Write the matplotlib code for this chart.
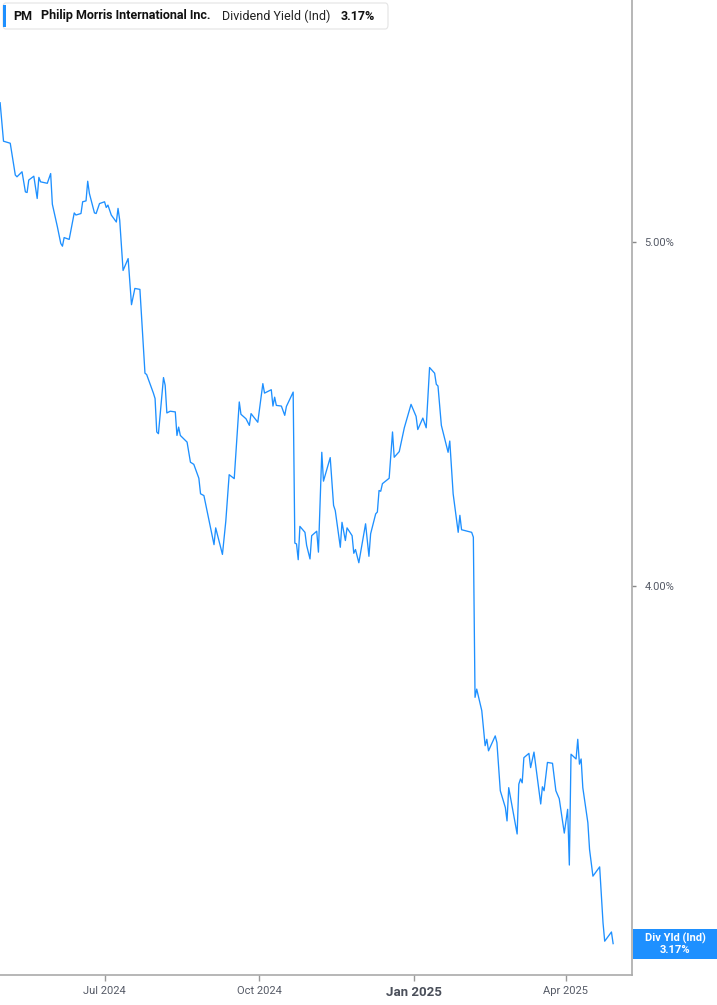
import matplotlib
matplotlib.use("Agg")
import matplotlib.pyplot as plt
import matplotlib.dates as mdates
import matplotlib.ticker as mticker
from matplotlib.patches import Rectangle, FancyBboxPatch
import pandas as pd

# dividend yield (%)
dates = [
    "2024-04-30", "2024-05-02", "2024-05-06", "2024-05-09", "2024-05-10", "2024-05-13",
    "2024-05-15", "2024-05-16", "2024-05-17", "2024-05-20", "2024-05-22", "2024-05-23",
    "2024-05-24", "2024-05-28", "2024-05-30", "2024-05-31", "2024-06-03", "2024-06-05",
    "2024-06-06", "2024-06-07", "2024-06-10", "2024-06-13", "2024-06-14", "2024-06-17",
    "2024-06-18", "2024-06-20", "2024-06-21", "2024-06-22", "2024-06-25", "2024-06-26",
    "2024-06-28", "2024-07-01", "2024-07-02", "2024-07-03", "2024-07-05", "2024-07-08",
    "2024-07-09", "2024-07-10", "2024-07-12", "2024-07-15", "2024-07-17", "2024-07-19",
    "2024-07-22", "2024-07-25", "2024-07-26", "2024-07-30", "2024-07-31", "2024-08-01",
    "2024-08-02", "2024-08-05", "2024-08-06", "2024-08-07", "2024-08-09", "2024-08-12",
    "2024-08-13", "2024-08-14", "2024-08-15", "2024-08-19", "2024-08-21", "2024-08-23",
    "2024-08-26", "2024-08-27", "2024-08-29", "2024-09-04", "2024-09-05", "2024-09-09",
    "2024-09-11", "2024-09-13", "2024-09-16", "2024-09-19", "2024-09-20", "2024-09-23",
    "2024-09-25", "2024-09-26", "2024-09-30", "2024-10-03", "2024-10-04", "2024-10-08",
    "2024-10-09", "2024-10-10", "2024-10-11", "2024-10-14", "2024-10-16", "2024-10-17",
    "2024-10-21", "2024-10-22", "2024-10-23", "2024-10-24", "2024-10-25", "2024-10-28",
    "2024-10-29", "2024-10-31", "2024-11-01", "2024-11-04", "2024-11-05", "2024-11-07",
    "2024-11-08", "2024-11-12", "2024-11-14", "2024-11-15", "2024-11-18", "2024-11-19",
    "2024-11-21", "2024-11-22", "2024-11-25", "2024-11-26", "2024-11-27", "2024-11-29",
    "2024-12-03", "2024-12-05", "2024-12-06", "2024-12-09", "2024-12-10", "2024-12-11",
    "2024-12-12", "2024-12-13", "2024-12-17", "2024-12-19", "2024-12-20", "2024-12-23",
    "2024-12-26", "2024-12-30", "2025-01-02", "2025-01-03", "2025-01-06", "2025-01-08",
    "2025-01-10", "2025-01-13", "2025-01-14", "2025-01-15", "2025-01-17", "2025-01-21",
    "2025-01-22", "2025-01-24", "2025-01-27", "2025-01-28", "2025-01-29", "2025-02-04",
    "2025-02-05", "2025-02-06", "2025-02-07", "2025-02-10", "2025-02-12", "2025-02-13",
    "2025-02-14", "2025-02-18", "2025-02-19", "2025-02-21", "2025-02-24", "2025-02-25",
    "2025-02-26", "2025-03-03", "2025-03-04", "2025-03-05", "2025-03-06", "2025-03-07",
    "2025-03-10", "2025-03-11", "2025-03-13", "2025-03-17", "2025-03-18", "2025-03-19",
    "2025-03-21", "2025-03-24", "2025-03-26", "2025-03-28", "2025-03-31", "2025-04-02",
    "2025-04-03", "2025-04-04", "2025-04-07", "2025-04-08", "2025-04-09", "2025-04-10",
    "2025-04-11", "2025-04-14", "2025-04-15", "2025-04-17", "2025-04-21", "2025-04-23",
    "2025-04-24", "2025-04-28", "2025-04-29",
]
yield_pct = [
    5.474, 5.339, 5.332, 5.223, 5.217, 5.234,
    5.166, 5.164, 5.206, 5.219, 5.144, 5.215,
    5.200, 5.195, 5.228, 5.125, 5.050, 4.996,
    4.987, 5.015, 5.009, 5.096, 5.089, 5.094,
    5.133, 5.136, 5.202, 5.161, 5.096, 5.094,
    5.127, 5.133, 5.114, 5.122, 5.089, 5.066,
    5.111, 5.072, 4.909, 4.947, 4.801, 4.852,
    4.849, 4.592, 4.588, 4.533, 4.517, 4.420,
    4.415, 4.579, 4.556, 4.475, 4.480, 4.478,
    4.410, 4.434, 4.410, 4.391, 4.334, 4.328,
    4.289, 4.246, 4.241, 4.108, 4.153, 4.082,
    4.171, 4.299, 4.288, 4.507, 4.471, 4.458,
    4.439, 4.473, 4.448, 4.561, 4.533, 4.543,
    4.495, 4.521, 4.497, 4.495, 4.468, 4.494,
    4.536, 4.112, 4.110, 4.068, 4.157, 4.141,
    4.106, 4.070, 4.132, 4.144, 4.088, 4.362,
    4.281, 4.347, 4.214, 4.200, 4.101, 4.168,
    4.119, 4.153, 4.132, 4.085, 4.095, 4.060,
    4.164, 4.077, 4.137, 4.191, 4.196, 4.255,
    4.253, 4.274, 4.289, 4.420, 4.348, 4.364,
    4.432, 4.500, 4.465, 4.427, 4.460, 4.432,
    4.609, 4.592, 4.559, 4.554, 4.439, 4.362,
    4.394, 4.246, 4.141, 4.187, 4.148, 4.141,
    4.128, 3.720, 3.740, 3.688, 3.605, 3.620,
    3.593, 3.628, 3.612, 3.501, 3.463, 3.433,
    3.508, 3.404, 3.516, 3.528, 3.519, 3.577,
    3.587, 3.554, 3.590, 3.471, 3.510, 3.501,
    3.566, 3.564, 3.501, 3.483, 3.406, 3.459,
    3.336, 3.585, 3.574, 3.620, 3.562, 3.574,
    3.508, 3.429, 3.370, 3.312, 3.332, 3.213,
    3.175, 3.194, 3.17,
]

xtick_dates = ["2024-07-01", "2024-10-01", "2025-01-01", "2025-04-01"]
xtick_labels = ["Jul 2024", "Oct 2024", "Jan 2025", "Apr 2025"]
ytick_vals = [4.0, 5.0]
ytick_labels = ["4.00%", "5.00%"]

blue = "#1e90ff"
W, H = 717, 1005

plt.rcParams["font.family"] = ["Roboto", "DejaVu Sans"]

fig = plt.figure(figsize=(W / 100, H / 100), dpi=100)
ax = fig.add_axes([0, 30 / H, 632 / W, 975 / H])

x = pd.to_datetime(dates)
ax.plot(x, yield_pct, color=blue, lw=0.95)

ax.set_yscale("log")
ax.set_ylim(3.106, 5.852)
ax.set_xlim(pd.Timestamp("2024-04-29 22:00"), pd.Timestamp("2025-05-10 05:00"))

ax.yaxis.tick_right()
ax.yaxis.set_major_locator(mticker.FixedLocator(ytick_vals))
ax.yaxis.set_major_formatter(mticker.FixedFormatter(ytick_labels))
ax.yaxis.set_minor_locator(mticker.NullLocator())
ax.tick_params(axis="y", length=3, width=1, color="#888888", labelsize=8,
               labelcolor="#555a66", pad=6)

ax.set_xticks(pd.to_datetime(xtick_dates))
ax.set_xticklabels(xtick_labels)
ax.tick_params(axis="x", length=4, width=1, color="#999999", labelsize=8,
               labelcolor="#555a66", pad=4)
for lbl in ax.get_xticklabels():
    if lbl.get_text().startswith("Jan"):
        lbl.set_fontweight("bold")
        lbl.set_fontsize(9.5)
        lbl.set_color("#4a4f5a")

for s in ["top", "left"]:
    ax.spines[s].set_visible(False)
for s in ["bottom", "right"]:
    ax.spines[s].set_color("#aaaaaa")
    ax.spines[s].set_linewidth(1.2)

# last value tag on the right
trans = ax.transData + fig.transFigure.inverted()
fx, fy = trans.transform((mdates.date2num(x[-1]), yield_pct[-1]))
fig.add_artist(Rectangle((633 / W, fy - 15 / H), 84 / W, 30 / H,
                         transform=fig.transFigure, color=blue, lw=0))
fig.text(675 / W, fy + 5.5 / H, "Div Yld (Ind)", color="white", fontsize=8,
         fontweight="bold", ha="center", va="center")
fig.text(675 / W, fy - 6 / H, f"{yield_pct[-1]:.2f}%", color="white", fontsize=8,
         fontweight="bold", ha="center", va="center")

# header legend
fig.add_artist(FancyBboxPatch((3 / W, 1 - 29 / H), 385 / W, 26 / H,
                              boxstyle="round,pad=0,rounding_size=0.004",
                              transform=fig.transFigure, facecolor="white",
                              edgecolor="#e4e4e4", lw=0.8))
fig.add_artist(Rectangle((3 / W, 1 - 27 / H), 3 / W, 22 / H,
                         transform=fig.transFigure, color=blue, lw=0))
ty = 1 - 16 / H
fig.text(13 / W, ty, "PM", fontsize=9, fontweight="bold", color="#111111", va="center")
fig.text(41 / W, ty, "Philip Morris International Inc.", fontsize=9,
         fontweight="bold", color="#111111", va="center")
fig.text(222 / W, ty, "Dividend Yield (Ind)", fontsize=9, color="#222222", va="center")
fig.text(341 / W, ty, f"{yield_pct[-1]:.2f}%", fontsize=9, fontweight="bold",
         color="#111111", va="center")

fig.savefig("out.png", dpi=100)
